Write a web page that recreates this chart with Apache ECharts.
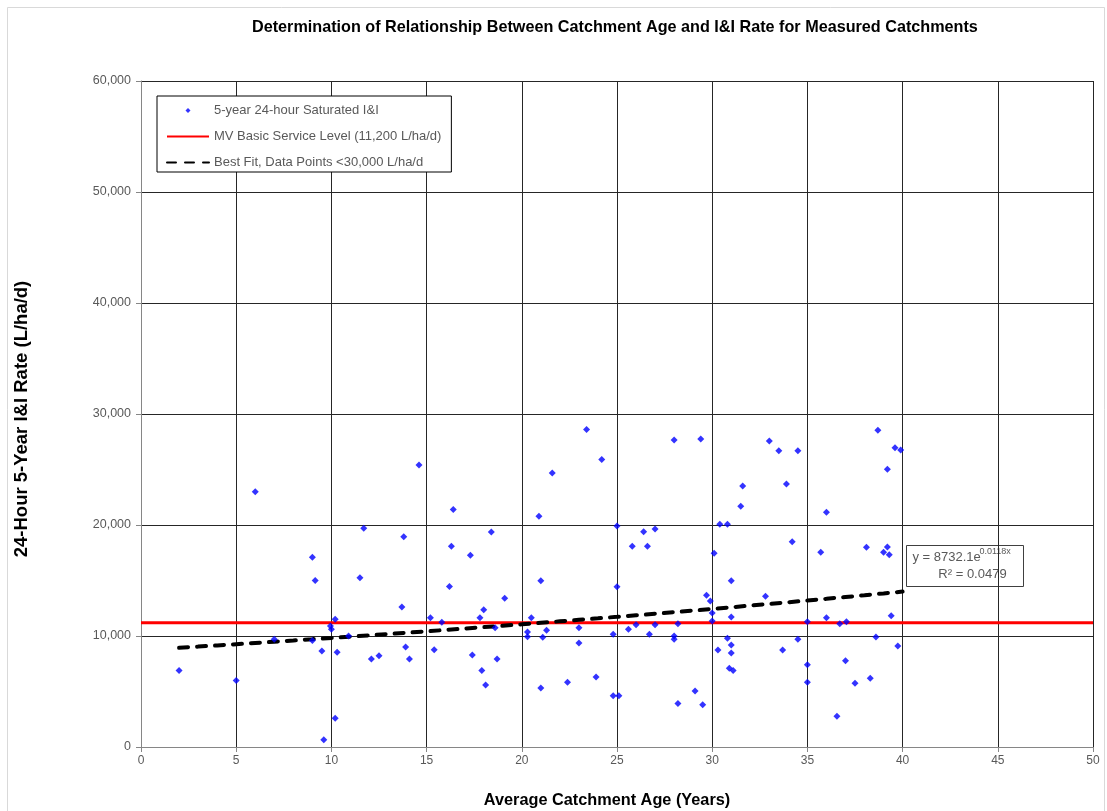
<!DOCTYPE html>
<html>
<head>
<meta charset="utf-8">
<title>Catchment Age vs I&amp;I Rate</title>
<script src="https://cdn.jsdelivr.net/npm/echarts@6/dist/echarts.min.js"></script>
<style>
  html, body { margin: 0; padding: 0; background: #fff; }
  #chart { width: 1107px; height: 811px; }
</style>
</head>
<body>
<div id="chart"></div>
<script>
// Measured catchments: average catchment age (years) and 5-year 24-hour saturated I&I (L/ha/d)
const catchmentAge = [
  2.0, 5.0, 6.0, 7.0, 9.0, 9.15, 9.0, 9.5, 9.6, 9.95, 10.0, 10.2, 10.3, 10.2, 10.9, 11.5, 11.7, 12.1, 12.5,
  13.7, 13.8, 13.9, 14.1, 14.6, 15.2, 15.4, 15.8, 16.2, 16.3, 16.4, 17.3, 17.4, 17.8, 17.9, 18.0, 18.1,
  18.4, 18.6, 18.7, 19.1, 20.3, 20.3, 20.5, 20.9, 21.0, 21.0, 21.1, 21.3, 21.6, 22.4, 23.0, 23.0, 23.4,
  23.9, 24.2,
  24.8, 24.8, 25.0, 25.0, 25.1, 25.6, 25.8, 26.0, 26.4, 26.6, 26.7, 27.0, 27.0, 28.0, 28.0, 28.0, 28.2,
  28.2, 29.1, 29.4, 29.5, 29.7, 29.9, 30.0, 30.0, 30.1, 30.3, 30.4, 30.8, 30.8, 31.0, 31.0, 31.0, 31.0,
  30.9, 31.1, 31.5, 31.6, 32.8, 33.0, 33.5, 33.7, 33.9, 34.2, 34.5, 34.5, 35.0, 35.0, 35.0, 35.7, 36.0,
  36.0, 36.55,
  36.7, 37.05, 37.0, 37.5, 38.1, 38.3, 38.6, 38.7, 39.0, 39.2, 39.2, 39.3, 39.4, 39.6, 39.75, 39.9
];
const iiRate = [
  6900, 6000, 23000, 9700, 17100, 15000, 9600, 8650, 660, 10900, 10600, 11500, 8530, 2600, 10000, 15250, 19700, 7930, 8230,
  12610, 18950, 9000, 7930, 25400, 11650, 8770, 11230, 14470, 18080, 21400, 17270, 8290, 11650, 6900, 12370, 5590,
  19370, 10750, 7930, 13390, 10360, 9940, 11650, 20780, 14980, 5320, 9880, 10510, 24680, 5830, 10750, 9370, 28600,
  6310, 25900,
  10150, 4620, 19910, 14440, 4620, 10600, 18080, 11020, 19400, 18080, 10150, 19640, 11020, 27660, 10000, 9700, 11110,
  3930, 5050, 27750, 3810, 13660, 13150, 12070, 11350, 17450, 8740, 20060, 20060, 9790, 14980, 11710, 9190, 8470,
  7090, 6900, 21680, 23510, 13570, 27570, 26700, 8740, 23690, 18500, 26700, 9700, 11290, 7420, 5830, 17540, 21140,
  11650, 2760,
  11110, 11290, 7780, 5740, 17990, 6190, 9910, 28530, 17540, 18020, 25020, 17330, 11830, 26970, 9100, 26760
];

// MV basic service level (L/ha/d), drawn across the full age axis
const serviceLevel = 11200;
const ageAxisRange = [0, 50];
const rateAxisRange = [0, 60000];

// Exponential best fit y = a * e^(b x), fitted to points below 30,000 L/ha/d
const fitA = 8732.1;
const fitB = 0.0118;
const fitR2 = 0.0479;
const fitAgeRange = [2, 40];

const seriesNames = [
  '5-year 24-hour Saturated I&I',
  'MV Basic Service Level (11,200 L/ha/d)',
  'Best Fit, Data Points <30,000 L/ha/d'
];

const FONT = 'Liberation Sans, Arial, sans-serif';
const GREY_TEXT = '#595959';

const scatterData = catchmentAge.map((x, i) => [x, iiRate[i]]);
const levelData = ageAxisRange.map(x => [x, serviceLevel]);
const fitData = [];
for (let x = fitAgeRange[0]; x <= fitAgeRange[1]; x += 1) {
  fitData.push([x, fitA * Math.exp(fitB * x)]);
}

const chart = echarts.init(document.getElementById('chart'), null, { renderer: 'canvas' });

chart.setOption({
  animation: false,
  backgroundColor: '#ffffff',
  textStyle: { fontFamily: FONT },
  title: {
    text: 'Determination of Relationship Between Catchment Age and I&I Rate for Measured Catchments',
    left: 247,
    top: 15,
    textStyle: { fontFamily: FONT, fontSize: 16.2, fontWeight: 'bold', color: '#000' }
  },
  grid: { left: 141, right: 14, top: 81, bottom: 64, containLabel: false, outerBoundsMode: 'none' },
  legend: {
    orient: 'vertical',
    left: 157,
    top: 96,
    padding: [8, 10, 3, 9],
    itemGap: 13,
    itemWidth: 42,
    itemHeight: 5,
    symbolKeepAspect: true,
    borderColor: '#000',
    borderWidth: 1,
    borderRadius: 0,
    backgroundColor: '#fff',
    selectedMode: false,
    textStyle: { fontFamily: FONT, fontSize: 13, color: GREY_TEXT },
    data: [
      { name: seriesNames[0], icon: 'path://M0,-1L1,0L0,1L-1,0Z' },
      { name: seriesNames[1], itemStyle: { opacity: 0 } },
      { name: seriesNames[2], itemStyle: { opacity: 0 } }
    ]
  },
  xAxis: {
    type: 'value',
    min: ageAxisRange[0],
    max: ageAxisRange[1],
    interval: 5,
    name: 'Average Catchment Age (Years)',
    nameLocation: 'middle',
    nameGap: 46,
    nameTextStyle: { fontFamily: FONT, fontSize: 16.3, fontWeight: 'bold', color: '#000', padding: [0, 20, 0, 0] },
    axisLine: { show: true, lineStyle: { color: '#868686', width: 1 } },
    axisTick: { show: true, length: 5, lineStyle: { color: '#868686' } },
    axisLabel: { fontFamily: FONT, fontSize: 12, color: GREY_TEXT, margin: 8 },
    splitLine: { show: true, lineStyle: { color: '#262626', width: 1 } }
  },
  yAxis: {
    type: 'value',
    min: rateAxisRange[0],
    max: rateAxisRange[1],
    interval: 10000,
    name: '24-Hour 5-Year I&I Rate (L/ha/d)',
    nameLocation: 'middle',
    nameRotate: 90,
    nameGap: 110,
    nameTextStyle: { fontFamily: FONT, fontSize: 18.5, fontWeight: 'bold', color: '#000', padding: [0, 10, 0, 0] },
    axisLine: { show: true, lineStyle: { color: '#868686', width: 1 } },
    axisTick: { show: true, length: 5, lineStyle: { color: '#868686' } },
    axisLabel: { fontFamily: FONT, fontSize: 12.5, color: GREY_TEXT, margin: 10 },
    splitLine: { show: true, lineStyle: { color: '#262626', width: 1 } }
  },
  series: [
    {
      name: seriesNames[1],
      type: 'line',
      data: levelData,
      symbol: 'none',
      lineStyle: { color: '#ff0000', width: 3 },
      itemStyle: { color: '#ff0000' },
      z: 2
    },
    {
      name: seriesNames[2],
      type: 'line',
      data: fitData,
      symbol: 'none',
      smooth: false,
      lineStyle: { color: '#000', width: 4, type: [9, 9], cap: 'round' },
      itemStyle: { color: '#000' },
      z: 3
    },
    {
      name: seriesNames[0],
      type: 'scatter',
      data: scatterData,
      symbol: 'diamond',
      symbolSize: 7,
      itemStyle: { color: '#0000ff' },
      z: 4
    }
  ],
  graphic: [
    {
      type: 'rect',
      shape: { x: 7.5, y: 7.5, width: 1097, height: 900 },
      style: { fill: 'none', stroke: '#d9d9d9', lineWidth: 1 },
      silent: true, z: -10
    },
    {
      type: 'group',
      left: 906, top: 545,
      z: 100,
      children: [
        {
          type: 'rect',
          shape: { x: 0, y: 0, width: 117, height: 41 },
          style: { fill: '#fff', stroke: '#404040', lineWidth: 1 }
        },
        {
          type: 'text',
          x: 6, y: 12,
          style: {
            text: 'y = ' + fitA.toFixed(1) + 'e',
            font: '13px ' + FONT, fill: GREY_TEXT, verticalAlign: 'middle'
          }
        },
        {
          type: 'text',
          x: 73, y: 6,
          style: {
            text: fitB.toFixed(4) + 'x',
            font: '9px ' + FONT, fill: GREY_TEXT, verticalAlign: 'middle'
          }
        },
        {
          type: 'text',
          x: 66, y: 29,
          style: {
            text: 'R\u00b2 = ' + fitR2.toFixed(4),
            font: '13px ' + FONT, fill: GREY_TEXT, verticalAlign: 'middle', align: 'center'
          }
        }
      ]
    }
  ]
});
</script>
</body>
</html>
